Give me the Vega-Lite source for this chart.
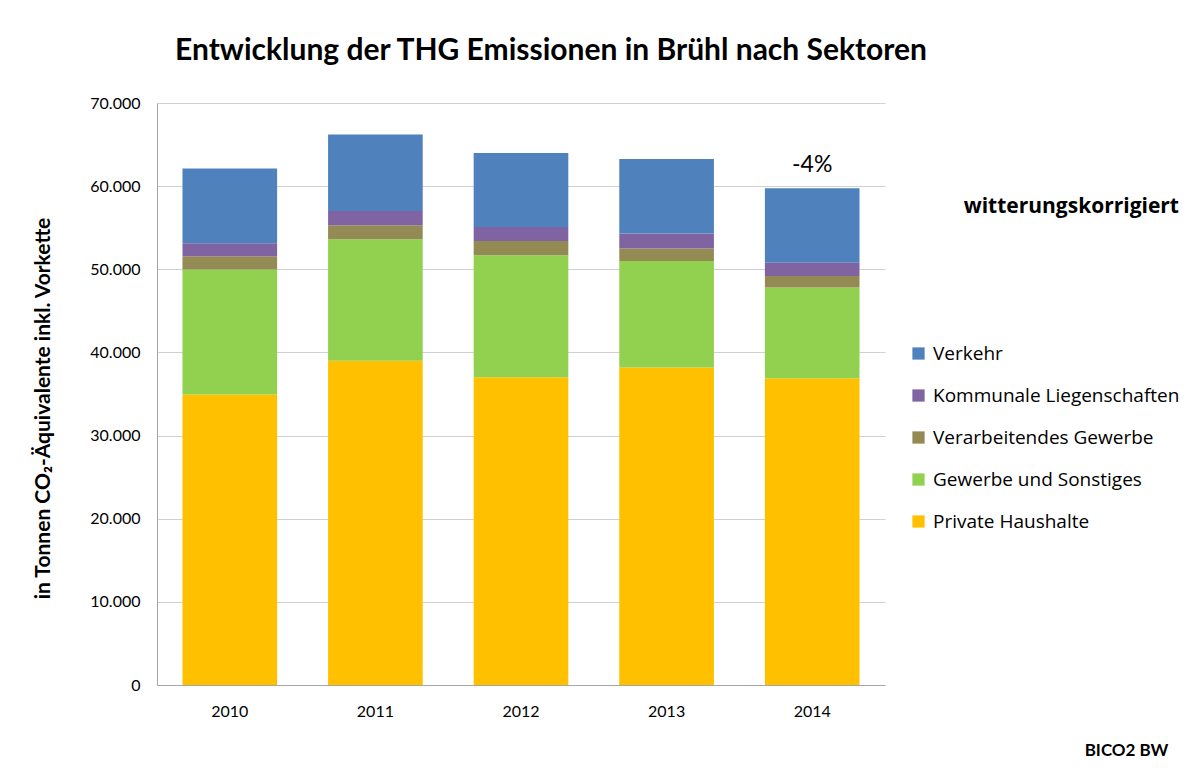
{
  "$schema": "https://vega.github.io/schema/vega-lite/v6.json",
  "width": 728,
  "height": 582,
  "autosize": {"type": "none"},
  "padding": {"left": 157, "top": 103, "right": 306, "bottom": 91},
  "background": "white",
  "config": {
    "font": "Lato",
    "view": {"stroke": null},
    "locale": {"number": {"decimal": ",", "thousands": ".", "grouping": [3], "currency": ["", " €"]}}
  },
  "title": {
    "text": "Entwicklung der THG Emissionen in Brühl nach Sektoren",
    "fontSize": 30,
    "fontWeight": "bold",
    "font": "Lato",
    "color": "#000000",
    "anchor": "middle",
    "frame": "group",
    "dx": 30,
    "offset": 29
  },
  "datasets": {
    "bars": [
      {"year": "2010", "sector": "Private Haushalte", "rank": 1, "value": 34940},
      {"year": "2010", "sector": "Gewerbe und Sonstiges", "rank": 2, "value": 15020},
      {"year": "2010", "sector": "Verarbeitendes Gewerbe", "rank": 3, "value": 1610},
      {"year": "2010", "sector": "Kommunale Liegenschaften", "rank": 4, "value": 1560},
      {"year": "2010", "sector": "Verkehr", "rank": 5, "value": 9000},
      {"year": "2011", "sector": "Private Haushalte", "rank": 1, "value": 39000},
      {"year": "2011", "sector": "Gewerbe und Sonstiges", "rank": 2, "value": 14600},
      {"year": "2011", "sector": "Verarbeitendes Gewerbe", "rank": 3, "value": 1700},
      {"year": "2011", "sector": "Kommunale Liegenschaften", "rank": 4, "value": 1700},
      {"year": "2011", "sector": "Verkehr", "rank": 5, "value": 9200},
      {"year": "2012", "sector": "Private Haushalte", "rank": 1, "value": 37000},
      {"year": "2012", "sector": "Gewerbe und Sonstiges", "rank": 2, "value": 14700},
      {"year": "2012", "sector": "Verarbeitendes Gewerbe", "rank": 3, "value": 1700},
      {"year": "2012", "sector": "Kommunale Liegenschaften", "rank": 4, "value": 1700},
      {"year": "2012", "sector": "Verkehr", "rank": 5, "value": 8900},
      {"year": "2013", "sector": "Private Haushalte", "rank": 1, "value": 38200},
      {"year": "2013", "sector": "Gewerbe und Sonstiges", "rank": 2, "value": 12800},
      {"year": "2013", "sector": "Verarbeitendes Gewerbe", "rank": 3, "value": 1500},
      {"year": "2013", "sector": "Kommunale Liegenschaften", "rank": 4, "value": 1800},
      {"year": "2013", "sector": "Verkehr", "rank": 5, "value": 8950},
      {"year": "2014", "sector": "Private Haushalte", "rank": 1, "value": 36900},
      {"year": "2014", "sector": "Gewerbe und Sonstiges", "rank": 2, "value": 10900},
      {"year": "2014", "sector": "Verarbeitendes Gewerbe", "rank": 3, "value": 1400},
      {"year": "2014", "sector": "Kommunale Liegenschaften", "rank": 4, "value": 1600},
      {"year": "2014", "sector": "Verkehr", "rank": 5, "value": 8960}
    ],
    "annot": [
      {"year": "2014", "total": 59760, "label": "-4%"}
    ]
  },
  "layer": [
    {
      "data": {"name": "bars"},
      "mark": {"type": "bar"},
      "encoding": {
        "x": {
          "field": "year", "type": "nominal",
          "scale": {"paddingInner": 0.35, "paddingOuter": 0.175},
          "axis": {
            "labelAngle": 0, "labelFontSize": 16, "labelColor": "#000000", "labelPadding": 18,
            "ticks": false, "domainColor": "#A6A6A6", "grid": false,
            "title": "BICO2 BW", "titleFontSize": 17, "titleFontWeight": "bold", "titleColor": "#000000",
            "titleAnchor": "end", "titleAlign": "right", "titleX": 1011, "titleY": 65, "titleBaseline": "middle"
          }
        },
        "y": {
          "field": "value", "type": "quantitative", "stack": "zero",
          "scale": {"domain": [0, 70000]},
          "axis": {
            "values": [0, 10000, 20000, 30000, 40000, 50000, 60000, 70000],
            "format": ",.0f",
            "labelFontSize": 16, "labelColor": "#000000", "labelPadding": 17,
            "ticks": false, "domainColor": "#A6A6A6", "gridColor": "#D0D0D0",
            "title": "in Tonnen CO₂-Äquivalente inkl. Vorkette",
            "titleFontSize": 21, "titleFontWeight": "bold", "titleColor": "#000000", "titlePadding": 36,
            "titleY": 305
          }
        },
        "order": {"field": "rank", "type": "quantitative", "sort": "ascending"},
        "color": {
          "field": "sector", "type": "nominal",
          "sort": ["Verkehr", "Kommunale Liegenschaften", "Verarbeitendes Gewerbe", "Gewerbe und Sonstiges", "Private Haushalte"],
          "scale": {
            "range": ["#4F81BD", "#8064A2", "#948A54", "#92D050", "#FFC000"]
          },
          "legend": {
            "orient": "none", "legendX": 752, "legendY": 93,
            "title": "witterungskorrigiert",
            "titleFont": "Open Sans",
            "titleFontSize": 21, "titleFontWeight": "bold", "titleColor": "#000000",
            "titleAnchor": "end", "titlePadding": 127, "titleLimit": 400,
            "labelFont": "Open Sans",
            "labelFontSize": 19, "labelColor": "#000000", "labelLimit": 400,
            "symbolType": "square", "symbolSize": 150, "symbolStrokeWidth": 0,
            "rowPadding": 22, "labelOffset": 5, "padding": 0
          }
        }
      }
    },
    {
      "data": {"name": "annot"},
      "mark": {"type": "text", "fontSize": 23, "dy": -23, "color": "#000000"},
      "encoding": {
        "x": {"field": "year", "type": "nominal"},
        "y": {"field": "total", "type": "quantitative"},
        "text": {"field": "label"}
      }
    }
  ]
}
